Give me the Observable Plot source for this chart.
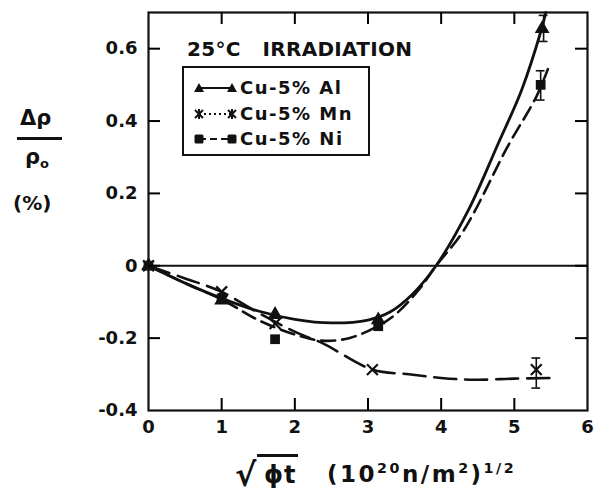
<!DOCTYPE html>
<html>
<head>
<meta charset="utf-8">
<script src="https://cdn.jsdelivr.net/npm/d3@7"></script>
<script src="https://cdn.jsdelivr.net/npm/@observablehq/plot@0.6"></script>
<style>
  html, body { margin: 0; padding: 0; background: #fff; }
  #wrap { position: relative; width: 595px; height: 493px; font-family: "DejaVu Sans", sans-serif; font-weight: bold; color: #111; }
  #main, #ticks { position: absolute; left: 0; top: 0; width: 595px; height: 493px; }
  #ticks { z-index: 5; pointer-events: none; }
  .abs { position: absolute; white-space: pre; line-height: 1; }
  #legend { position: absolute; left: 182px; top: 66px; width: 184px; height: 86px; border: 2px solid #111; background: #fff; }
  .row { position: absolute; left: 0; height: 26px; width: 184px; }
  .row svg { position: absolute; left: 10px; top: 4px; }
  .row span { position: absolute; left: 56px; top: 3px; font-size: 18px; letter-spacing: 1.5px; }
  sup { font-size: 62%; vertical-align: 0; position: relative; top: -0.6em; }
</style>
</head>
<body>
<div id="wrap"><div id="main"></div><div id="ticks"></div></div>
<script>
// ---- data ----
const xTicks = [0, 1, 2, 3, 4, 5, 6];
const yTicks = [-0.4, -0.2, 0, 0.2, 0.4, 0.6];

// measured points
const alX = [0, 1, 1.73, 3.14, 5.38];
const alY = [0, -0.095, -0.135, -0.15, 0.655];
const mnX = [0, 1, 1.73, 3.06, 5.30];
const mnY = [0, -0.072, -0.16, -0.287, -0.287];
const niX = [0, 1, 1.73, 3.14, 5.36];
const niY = [0, -0.09, -0.203, -0.167, 0.5];

// error bars
const errSeries = ["Al", "Ni", "Mn"];
const errX = [5.40, 5.36, 5.30];
const errLo = [0.62, 0.458, -0.338];
const errHi = [0.692, 0.539, -0.255];

// hand-drawn fitted curves
const alCurveX = [0, 0.5, 1, 1.5, 2, 2.5, 3, 3.3, 3.6, 3.93, 4.37, 4.78, 5.1, 5.37, 5.43];
const alCurveY = [0, -0.048, -0.09, -0.125, -0.148, -0.158, -0.15, -0.128, -0.08, 0, 0.153, 0.338, 0.486, 0.653, 0.70];
const niCurveX = [0, 0.5, 1, 1.5, 2, 2.37, 2.74, 3.15, 3.4, 3.7, 3.93, 4.3, 4.91, 5.30, 5.48];
const niCurveY = [0, -0.048, -0.093, -0.15, -0.19, -0.207, -0.2, -0.165, -0.13, -0.065, 0, 0.095, 0.33, 0.467, 0.555];
const mnCurveX = [0, 0.5, 1, 1.5, 2.05, 2.37, 3.06, 3.56, 4.0, 4.45, 5.0, 5.48];
const mnCurveY = [0, -0.035, -0.072, -0.13, -0.187, -0.213, -0.287, -0.3, -0.31, -0.315, -0.312, -0.31];

// ---- build tables ----
const zip = (xs, ys) => xs.map((x, i) => ({x, y: ys[i]}));
const alPts = zip(alX, alY), mnPts = zip(mnX, mnY), niPts = zip(niX, niY);
const alCurve = zip(alCurveX, alCurveY), niCurve = zip(niCurveX, niCurveY), mnCurve = zip(mnCurveX, mnCurveY);
const errs = errX.map((x, i) => ({s: errSeries[i], x, lo: errLo[i], hi: errHi[i]}));
const capHalf = 0.06;

const fmt = d => d === 0 ? "0" : d.toFixed(1);
const ink = "#111";

const W = 595, H = 493, ML = 148, MR = 8, MT = 12, MB = 83;
const xDom = [0, 6], yDom = [-0.4, 0.7];
const frameW = W - ML - MR, frameH = H - MT - MB, tickLen = 12;
const tx = tickLen * (xDom[1] - xDom[0]) / frameW;
const ty = tickLen * (yDom[1] - yDom[0]) / frameH;

const innerX = xTicks.slice(1, -1);
const innerY = yTicks.slice(1);
const tickBottom = innerX.map(x => ({x, a: yDom[0], b: yDom[0] + ty}));
const tickTop = innerX.map(x => ({x, a: yDom[1] - ty, b: yDom[1]}));
const tickLeft = innerY.map(y => ({y, a: xDom[0], b: xDom[0] + tx}));
const tickRight = innerY.map(y => ({y, a: xDom[1] - tx, b: xDom[1]}));

const chart = Plot.plot({
  width: W,
  height: H,
  marginLeft: ML,
  marginRight: MR,
  marginTop: MT,
  marginBottom: MB,
  style: {fontFamily: "DejaVu Sans, sans-serif", fontSize: "18px", fontWeight: "bold", color: ink},
  x: {domain: xDom},
  y: {domain: yDom},
  marks: [
    Plot.ruleY([0], {stroke: ink, strokeWidth: 1.8}),
    Plot.line(mnCurve, {x: "x", y: "y", curve: "catmull-rom", stroke: ink, strokeWidth: 2.6, strokeDasharray: "22,9"}),
    Plot.line(niCurve, {x: "x", y: "y", curve: "catmull-rom", stroke: ink, strokeWidth: 2.6, strokeDasharray: "14,7"}),
    Plot.line(alCurve, {x: "x", y: "y", curve: "catmull-rom", stroke: ink, strokeWidth: 2.8}),
    Plot.ruleX(errs, {x: "x", y1: "lo", y2: "hi", stroke: ink, strokeWidth: 1.6}),
    Plot.ruleY(errs, {y: "lo", x1: d => d.x - capHalf, x2: d => d.x + capHalf, stroke: ink, strokeWidth: 1.6}),
    Plot.ruleY(errs, {y: "hi", x1: d => d.x - capHalf, x2: d => d.x + capHalf, stroke: ink, strokeWidth: 1.6}),
    Plot.dot(mnPts, {x: "x", y: "y", symbol: "times", r: 5, stroke: ink, strokeWidth: 2.2}),
    Plot.dot(alPts, {x: "x", y: "y", symbol: "triangle", r: 5.5, fill: ink, stroke: "none"}),
    Plot.dot(niPts, {x: "x", y: "y", symbol: "square", r: 5.5, fill: ink, stroke: "none"}),
    Plot.axisX({anchor: "bottom", ticks: xTicks, tickSize: 0, tickPadding: 10, tickFormat: d => String(d), label: null}),
    Plot.axisY({anchor: "left", ticks: yTicks, tickSize: 0, tickPadding: 11, tickFormat: fmt, label: null}),
    Plot.frame({stroke: ink, strokeWidth: 2.2})
  ]
});
document.getElementById("main").appendChild(chart);

// second, transparent Plot layer with the same scales: inward ticks on all four sides
const tickChart = Plot.plot({
  width: W,
  height: H,
  marginLeft: ML,
  marginRight: MR,
  marginTop: MT,
  marginBottom: MB,
  x: {domain: xDom, axis: null},
  y: {domain: yDom, axis: null},
  marks: [
    Plot.ruleX(tickBottom, {x: "x", y1: "a", y2: "b", stroke: "#000", strokeWidth: 2}),
    Plot.ruleX(tickTop, {x: "x", y1: "a", y2: "b", stroke: "#000", strokeWidth: 2}),
    Plot.ruleY(tickLeft, {y: "y", x1: "a", x2: "b", stroke: "#000", strokeWidth: 2}),
    Plot.ruleY(tickRight, {y: "y", x1: "a", x2: "b", stroke: "#000", strokeWidth: 2})
  ]
});
tickChart.style.background = "transparent";
document.getElementById("ticks").appendChild(tickChart);

const wrap = document.getElementById("wrap");
function add(html, style) {
  const d = document.createElement("div");
  d.className = "abs";
  d.innerHTML = html;
  Object.assign(d.style, style);
  wrap.appendChild(d);
  return d;
}
function rule(left, top, width, height) {
  const b = document.createElement("div");
  Object.assign(b.style, {position: "absolute", left: left + "px", top: top + "px", width: width + "px", height: height + "px", background: ink});
  wrap.appendChild(b);
}

// title inside plot
add("25°C   IRRADIATION", {left: "187px", top: "39px", fontSize: "20px", letterSpacing: "0.3px"});

// legend
const legend = document.createElement("div");
legend.id = "legend";
const rows = [
  {label: "Cu-5% Al", dash: null, sym: "tri"},
  {label: "Cu-5% Mn", dash: "2,3", sym: "x"},
  {label: "Cu-5% Ni", dash: "7,4", sym: "sq"}
];
function symSvg(kind, cx, cy) {
  if (kind === "tri") return `<path d="M${cx},${cy-5}L${cx+5},${cy+4}L${cx-5},${cy+4}Z" fill="${ink}"/>`;
  if (kind === "sq") return `<rect x="${cx-4.5}" y="${cy-4.5}" width="9" height="9" rx="1.5" fill="${ink}"/>`;
  return `<path d="M${cx-4},${cy-4}L${cx+4},${cy+4}M${cx+4},${cy-4}L${cx-4},${cy+4}M${cx},${cy-5}L${cx},${cy+5}" stroke="${ink}" stroke-width="2"/>`;
}
rows.forEach((r, i) => {
  const row = document.createElement("div");
  row.className = "row";
  row.style.top = (6 + i * 25.5) + "px";
  row.innerHTML = `<svg width="44" height="18">
      <line x1="5" y1="10" x2="38" y2="10" stroke="${ink}" stroke-width="2.2" ${r.dash ? `stroke-dasharray="${r.dash}"` : ""}/>
      ${symSvg(r.sym, 5, 10)}${symSvg(r.sym, 38, 10)}
    </svg><span>${r.label}</span>`;
  legend.appendChild(row);
});
legend.style.zIndex = 6;
wrap.appendChild(legend);

// y-axis label: Δρ / ρo (%)
add("Δρ", {left: "20px", top: "108px", fontSize: "21px"});
rule(17, 137, 45, 3);
add("ρ<span style='font-size:13px;position:relative;top:4px'>o</span>", {left: "25px", top: "147px", fontSize: "21px"});
add("(%)", {left: "13px", top: "193px", fontSize: "20px"});

// x-axis label
add("√", {left: "235px", top: "459px", fontSize: "32px"});
rule(257, 454, 41, 3);
add("ϕt", {left: "264px", top: "463px", fontSize: "24px", letterSpacing: "1px"});
add("(10<sup>20</sup>n/m<sup>2</sup>)<sup>1/2</sup>", {left: "327px", top: "463px", fontSize: "23px", letterSpacing: "2.5px"});
</script>
</body>
</html>
